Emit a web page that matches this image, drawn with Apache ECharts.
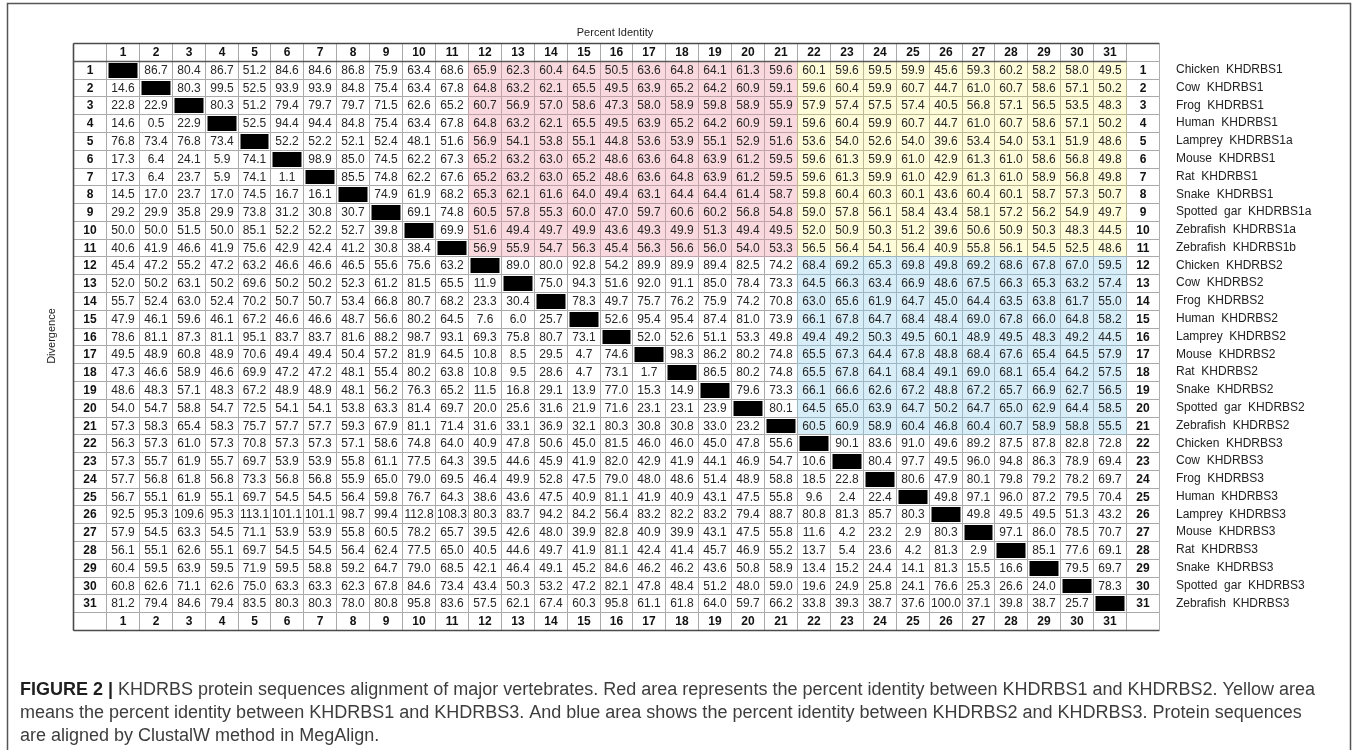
<!DOCTYPE html>
<html><head><meta charset="utf-8">
<script src="https://cdn.jsdelivr.net/npm/echarts@6/dist/echarts.min.js"></script>
<style>html,body{margin:0;padding:0;background:#fff}#c{width:1359px;height:750px}</style>
</head><body><div id="c"></div>
<script>
// ---------- data ----------
const colLabels = ['1','2','3','4','5','6','7','8','9','10','11','12','13','14','15','16','17','18','19','20','21','22','23','24','25','26','27','28','29','30','31'];
const rowLabels = colLabels.slice();
const speciesNames = ['Chicken  KHDRBS1','Cow  KHDRBS1','Frog  KHDRBS1','Human  KHDRBS1','Lamprey  KHDRBS1a','Mouse  KHDRBS1','Rat  KHDRBS1','Snake  KHDRBS1','Spotted  gar  KHDRBS1a','Zebrafish  KHDRBS1a','Zebrafish  KHDRBS1b','Chicken  KHDRBS2','Cow  KHDRBS2','Frog  KHDRBS2','Human  KHDRBS2','Lamprey  KHDRBS2','Mouse  KHDRBS2','Rat  KHDRBS2','Snake  KHDRBS2','Spotted  gar  KHDRBS2','Zebrafish  KHDRBS2','Chicken  KHDRBS3','Cow  KHDRBS3','Frog  KHDRBS3','Human  KHDRBS3','Lamprey  KHDRBS3','Mouse  KHDRBS3','Rat  KHDRBS3','Snake  KHDRBS3','Spotted  gar  KHDRBS3','Zebrafish  KHDRBS3'];

const r01 = [null,86.7,80.4,86.7,51.2,84.6,84.6,86.8,75.9,63.4,68.6,65.9,62.3,60.4,64.5,50.5,63.6,64.8,64.1,61.3,59.6,60.1,59.6,59.5,59.9,45.6,59.3,60.2,58.2,58.0,49.5];
const r02 = [14.6,null,80.3,99.5,52.5,93.9,93.9,84.8,75.4,63.4,67.8,64.8,63.2,62.1,65.5,49.5,63.9,65.2,64.2,60.9,59.1,59.6,60.4,59.9,60.7,44.7,61.0,60.7,58.6,57.1,50.2];
const r03 = [22.8,22.9,null,80.3,51.2,79.4,79.7,79.7,71.5,62.6,65.2,60.7,56.9,57.0,58.6,47.3,58.0,58.9,59.8,58.9,55.9,57.9,57.4,57.5,57.4,40.5,56.8,57.1,56.5,53.5,48.3];
const r04 = [14.6,0.5,22.9,null,52.5,94.4,94.4,84.8,75.4,63.4,67.8,64.8,63.2,62.1,65.5,49.5,63.9,65.2,64.2,60.9,59.1,59.6,60.4,59.9,60.7,44.7,61.0,60.7,58.6,57.1,50.2];
const r05 = [76.8,73.4,76.8,73.4,null,52.2,52.2,52.1,52.4,48.1,51.6,56.9,54.1,53.8,55.1,44.8,53.6,53.9,55.1,52.9,51.6,53.6,54.0,52.6,54.0,39.6,53.4,54.0,53.1,51.9,48.6];
const r06 = [17.3,6.4,24.1,5.9,74.1,null,98.9,85.0,74.5,62.2,67.3,65.2,63.2,63.0,65.2,48.6,63.6,64.8,63.9,61.2,59.5,59.6,61.3,59.9,61.0,42.9,61.3,61.0,58.6,56.8,49.8];
const r07 = [17.3,6.4,23.7,5.9,74.1,1.1,null,85.5,74.8,62.2,67.6,65.2,63.2,63.0,65.2,48.6,63.6,64.8,63.9,61.2,59.5,59.6,61.3,59.9,61.0,42.9,61.3,61.0,58.9,56.8,49.8];
const r08 = [14.5,17.0,23.7,17.0,74.5,16.7,16.1,null,74.9,61.9,68.2,65.3,62.1,61.6,64.0,49.4,63.1,64.4,64.4,61.4,58.7,59.8,60.4,60.3,60.1,43.6,60.4,60.1,58.7,57.3,50.7];
const r09 = [29.2,29.9,35.8,29.9,73.8,31.2,30.8,30.7,null,69.1,74.8,60.5,57.8,55.3,60.0,47.0,59.7,60.6,60.2,56.8,54.8,59.0,57.8,56.1,58.4,43.4,58.1,57.2,56.2,54.9,49.7];
const r10 = [50.0,50.0,51.5,50.0,85.1,52.2,52.2,52.7,39.8,null,69.9,51.6,49.4,49.7,49.9,43.6,49.3,49.9,51.3,49.4,49.5,52.0,50.9,50.3,51.2,39.6,50.6,50.9,50.3,48.3,44.5];
const r11 = [40.6,41.9,46.6,41.9,75.6,42.9,42.4,41.2,30.8,38.4,null,56.9,55.9,54.7,56.3,45.4,56.3,56.6,56.0,54.0,53.3,56.5,56.4,54.1,56.4,40.9,55.8,56.1,54.5,52.5,48.6];
const r12 = [45.4,47.2,55.2,47.2,63.2,46.6,46.6,46.5,55.6,75.6,63.2,null,89.0,80.0,92.8,54.2,89.9,89.9,89.4,82.5,74.2,68.4,69.2,65.3,69.8,49.8,69.2,68.6,67.8,67.0,59.5];
const r13 = [52.0,50.2,63.1,50.2,69.6,50.2,50.2,52.3,61.2,81.5,65.5,11.9,null,75.0,94.3,51.6,92.0,91.1,85.0,78.4,73.3,64.5,66.3,63.4,66.9,48.6,67.5,66.3,65.3,63.2,57.4];
const r14 = [55.7,52.4,63.0,52.4,70.2,50.7,50.7,53.4,66.8,80.7,68.2,23.3,30.4,null,78.3,49.7,75.7,76.2,75.9,74.2,70.8,63.0,65.6,61.9,64.7,45.0,64.4,63.5,63.8,61.7,55.0];
const r15 = [47.9,46.1,59.6,46.1,67.2,46.6,46.6,48.7,56.6,80.2,64.5,7.6,6.0,25.7,null,52.6,95.4,95.4,87.4,81.0,73.9,66.1,67.8,64.7,68.4,48.4,69.0,67.8,66.0,64.8,58.2];
const r16 = [78.6,81.1,87.3,81.1,95.1,83.7,83.7,81.6,88.2,98.7,93.1,69.3,75.8,80.7,73.1,null,52.0,52.6,51.1,53.3,49.8,49.4,49.2,50.3,49.5,60.1,48.9,49.5,48.3,49.2,44.5];
const r17 = [49.5,48.9,60.8,48.9,70.6,49.4,49.4,50.4,57.2,81.9,64.5,10.8,8.5,29.5,4.7,74.6,null,98.3,86.2,80.2,74.8,65.5,67.3,64.4,67.8,48.8,68.4,67.6,65.4,64.5,57.9];
const r18 = [47.3,46.6,58.9,46.6,69.9,47.2,47.2,48.1,55.4,80.2,63.8,10.8,9.5,28.6,4.7,73.1,1.7,null,86.5,80.2,74.8,65.5,67.8,64.1,68.4,49.1,69.0,68.1,65.4,64.2,57.5];
const r19 = [48.6,48.3,57.1,48.3,67.2,48.9,48.9,48.1,56.2,76.3,65.2,11.5,16.8,29.1,13.9,77.0,15.3,14.9,null,79.6,73.3,66.1,66.6,62.6,67.2,48.8,67.2,65.7,66.9,62.7,56.5];
const r20 = [54.0,54.7,58.8,54.7,72.5,54.1,54.1,53.8,63.3,81.4,69.7,20.0,25.6,31.6,21.9,71.6,23.1,23.1,23.9,null,80.1,64.5,65.0,63.9,64.7,50.2,64.7,65.0,62.9,64.4,58.5];
const r21 = [57.3,58.3,65.4,58.3,75.7,57.7,57.7,59.3,67.9,81.1,71.4,31.6,33.1,36.9,32.1,80.3,30.8,30.8,33.0,23.2,null,60.5,60.9,58.9,60.4,46.8,60.4,60.7,58.9,58.8,55.5];
const r22 = [56.3,57.3,61.0,57.3,70.8,57.3,57.3,57.1,58.6,74.8,64.0,40.9,47.8,50.6,45.0,81.5,46.0,46.0,45.0,47.8,55.6,null,90.1,83.6,91.0,49.6,89.2,87.5,87.8,82.8,72.8];
const r23 = [57.3,55.7,61.9,55.7,69.7,53.9,53.9,55.8,61.1,77.5,64.3,39.5,44.6,45.9,41.9,82.0,42.9,41.9,44.1,46.9,54.7,10.6,null,80.4,97.7,49.5,96.0,94.8,86.3,78.9,69.4];
const r24 = [57.7,56.8,61.8,56.8,73.3,56.8,56.8,55.9,65.0,79.0,69.5,46.4,49.9,52.8,47.5,79.0,48.0,48.6,51.4,48.9,58.8,18.5,22.8,null,80.6,47.9,80.1,79.8,79.2,78.2,69.7];
const r25 = [56.7,55.1,61.9,55.1,69.7,54.5,54.5,56.4,59.8,76.7,64.3,38.6,43.6,47.5,40.9,81.1,41.9,40.9,43.1,47.5,55.8,9.6,2.4,22.4,null,49.8,97.1,96.0,87.2,79.5,70.4];
const r26 = [92.5,95.3,109.6,95.3,113.1,101.1,101.1,98.7,99.4,112.8,108.3,80.3,83.7,94.2,84.2,56.4,83.2,82.2,83.2,79.4,88.7,80.8,81.3,85.7,80.3,null,49.8,49.5,49.5,51.3,43.2];
const r27 = [57.9,54.5,63.3,54.5,71.1,53.9,53.9,55.8,60.5,78.2,65.7,39.5,42.6,48.0,39.9,82.8,40.9,39.9,43.1,47.5,55.8,11.6,4.2,23.2,2.9,80.3,null,97.1,86.0,78.5,70.7];
const r28 = [56.1,55.1,62.6,55.1,69.7,54.5,54.5,56.4,62.4,77.5,65.0,40.5,44.6,49.7,41.9,81.1,42.4,41.4,45.7,46.9,55.2,13.7,5.4,23.6,4.2,81.3,2.9,null,85.1,77.6,69.1];
const r29 = [60.4,59.5,63.9,59.5,71.9,59.5,58.8,59.2,64.7,79.0,68.5,42.1,46.4,49.1,45.2,84.6,46.2,46.2,43.6,50.8,58.9,13.4,15.2,24.4,14.1,81.3,15.5,16.6,null,79.5,69.7];
const r30 = [60.8,62.6,71.1,62.6,75.0,63.3,63.3,62.3,67.8,84.6,73.4,43.4,50.3,53.2,47.2,82.1,47.8,48.4,51.2,48.0,59.0,19.6,24.9,25.8,24.1,76.6,25.3,26.6,24.0,null,78.3];
const r31 = [81.2,79.4,84.6,79.4,83.5,80.3,80.3,78.0,80.8,95.8,83.6,57.5,62.1,67.4,60.3,95.8,61.1,61.8,64.0,59.7,66.2,33.8,39.3,38.7,37.6,100.0,37.1,39.8,38.7,25.7,null];
const matrix = [r01,r02,r03,r04,r05,r06,r07,r08,r09,r10,r11,r12,r13,r14,r15,r16,r17,r18,r19,r20,r21,r22,r23,r24,r25,r26,r27,r28,r29,r30,r31];

// ---------- build ----------
const N = colLabels.length;          // 31
const axisCats = [];
for (let i = 0; i < N + 2; i++) axisCats.push(String(i));
const yNames = [''].concat(speciesNames, ['']);

// kinds: 0 header, 1 white, 2 pink, 3 yellow, 4 blue, 5 diagonal, 9 frame
function regionKind(r, c) {
  if (r === c) return 5;
  if (r <= 10 && c >= 11 && c <= 20) return 2;
  if (r <= 10 && c >= 21) return 3;
  if (r >= 11 && r <= 20 && c >= 21) return 4;
  return 1;
}
const layers = [[], [], []];
for (let y = 0; y < N + 2; y++) {
  for (let x = 0; x < N + 2; x++) {
    const hdr = (y === 0 || y === N + 1 || x === 0 || x === N + 1);
    if (hdr) { layers[0].push([x, y, 0]); continue; }
    const k = regionKind(y - 1, x - 1);
    if (k === 1) layers[0].push([x, y, 1]);
    else if (k === 5) layers[2].push([x, y, 5]);
    else layers[1].push([x, y, k]);
  }
}
const cellData = layers[0].concat(layers[1], layers[2], [[0, 0, 9]]);

const STY = {
  0: { fill: '#ffffff', stroke: '#a9a9a9' },
  1: { fill: '#ffffff', stroke: '#a9a9a9' },
  2: { fill: '#f9d9dd', stroke: '#bea4a8' },
  3: { fill: '#fffdd9', stroke: '#bbb893' },
  4: { fill: '#d7eef9', stroke: '#9db7c4' },
  5: { fill: '#ffffff', stroke: '#a9a9a9' }
};
const FONT = '"Liberation Sans", Arial, sans-serif';

function cellText(x, y) {
  if (y === 0 || y === N + 1) return (x >= 1 && x <= N) ? colLabels[x - 1] : '';
  if (x === 0 || x === N + 1) return rowLabels[y - 1];
  const v = matrix[y - 1][x - 1];
  return v == null ? '' : v.toFixed(1);
}

function renderItem(params, api) {
  const kind = api.value(2);
  if (kind === 9) {
    const cs = params.coordSys;
    const L = Math.round(cs.x) + 0.5, T = Math.round(cs.y) + 0.5;
    const R = Math.round(cs.x + cs.width) + 0.5, B = Math.round(cs.y + cs.height) + 0.5;
    const h = cs.height / (N + 2);
    const hb = Math.round(cs.y + h) + 0.5;
    const rc = Math.round(cs.x + cs.width * (N + 1) / (N + 2)) + 0.5;
    const ln = (x1, y1, x2, y2, st) => ({ type: 'line', shape: { x1, y1, x2, y2 }, style: st });
    const dark = { stroke: '#4a4a4a', lineWidth: 1.6 };
    return { type: 'group', children: [
      ln(L, T, R, T, dark),
      ln(L, T, L, B, dark),
      ln(L, B, R, B, dark),
      ln(L, hb, rc, hb, { stroke: '#5a5a5a', lineWidth: 1.3 }),
      ln(R, T, R, B, { stroke: '#b5b5b5', lineWidth: 1, lineDash: [1, 1] })
    ]};
  }
  const xi = api.value(0), yi = api.value(1);
  const c = api.coord([xi, yi]);
  const s = api.size([1, 1]);
  const x0 = Math.round(c[0] - s[0] / 2) + 0.5, y0 = Math.round(c[1] - s[1] / 2) + 0.5;
  const x1 = Math.round(c[0] + s[0] / 2) + 0.5, y1 = Math.round(c[1] + s[1] / 2) + 0.5;
  const st = STY[kind];
  const children = [{ type: 'rect', shape: { x: x0, y: y0, width: x1 - x0, height: y1 - y0 },
    style: { fill: st.fill, stroke: st.stroke, lineWidth: 1 } }];
  if (kind === 5) {
    children.push({ type: 'rect', shape: { x: x0 + 2, y: y0 + 1.5, width: x1 - x0 - 4, height: y1 - y0 - 3 },
      style: { fill: '#000000' } });
  } else {
    children.push({ type: 'text', style: {
      text: cellText(xi, yi), x: (x0 + x1) / 2, y: (y0 + y1) / 2 + 0.5,
      align: 'center', verticalAlign: 'middle',
      font: (kind === 0 ? 'bold ' : '') + '12px ' + FONT,
      fill: kind === 0 ? '#111' : '#262626'
    }});
  }
  return { type: 'group', children };
}

const chart = echarts.init(document.getElementById('c'), null, { renderer: 'canvas' });
chart.setOption({
  animation: false,
  backgroundColor: '#ffffff',
  grid: { left: 73, top: 43, width: 1086, height: 587, containLabel: false },
  xAxis: { type: 'category', data: axisCats, show: false },
  yAxis: {
    type: 'category', data: yNames, inverse: true, position: 'right',
    axisLine: { show: false }, axisTick: { show: false }, splitLine: { show: false },
    axisLabel: { interval: 0, margin: 17, fontSize: 12, fontFamily: FONT, color: '#222' }
  },
  series: [{
    type: 'custom', renderItem, data: cellData, clip: false,
    encode: { x: 0, y: 1 }, silent: true
  }],
  graphic: [
    { type: 'rect', shape: { x: 7.5, y: 3.5, width: 1343, height: 760 },
      style: { fill: 'none', stroke: '#555', lineWidth: 1.5 }, silent: true, z: 10 },
    { type: 'text', x: 615, y: 33, style: { text: 'Percent Identity', font: '11px ' + FONT, fill: '#222',
      align: 'center', verticalAlign: 'middle' }, z: 10 },
    { type: 'text', x: 52, y: 336, rotation: Math.PI / 2, style: { text: 'Divergence', font: '11px ' + FONT,
      fill: '#222', align: 'center', verticalAlign: 'middle' }, z: 10 },
    { type: 'text', x: 20, y: 679, z: 10, style: {
      text: '{b|FIGURE 2 |} KHDRBS protein sequences alignment of major vertebrates. Red area represents the percent identity between KHDRBS1 and KHDRBS2. Yellow area\nmeans the percent identity between KHDRBS1 and KHDRBS3. And blue area shows the percent identity between KHDRBS2 and KHDRBS3. Protein sequences\nare aligned by ClustalW method in MegAlign.',
      fontSize: 18, fontFamily: FONT, fill: '#3d3d3d', lineHeight: 23,
      rich: { b: { fontSize: 18, fontFamily: FONT, fontWeight: 'bold', fill: '#1e1e1e', lineHeight: 23 } }
    }}
  ]
});
</script>
</body></html>
